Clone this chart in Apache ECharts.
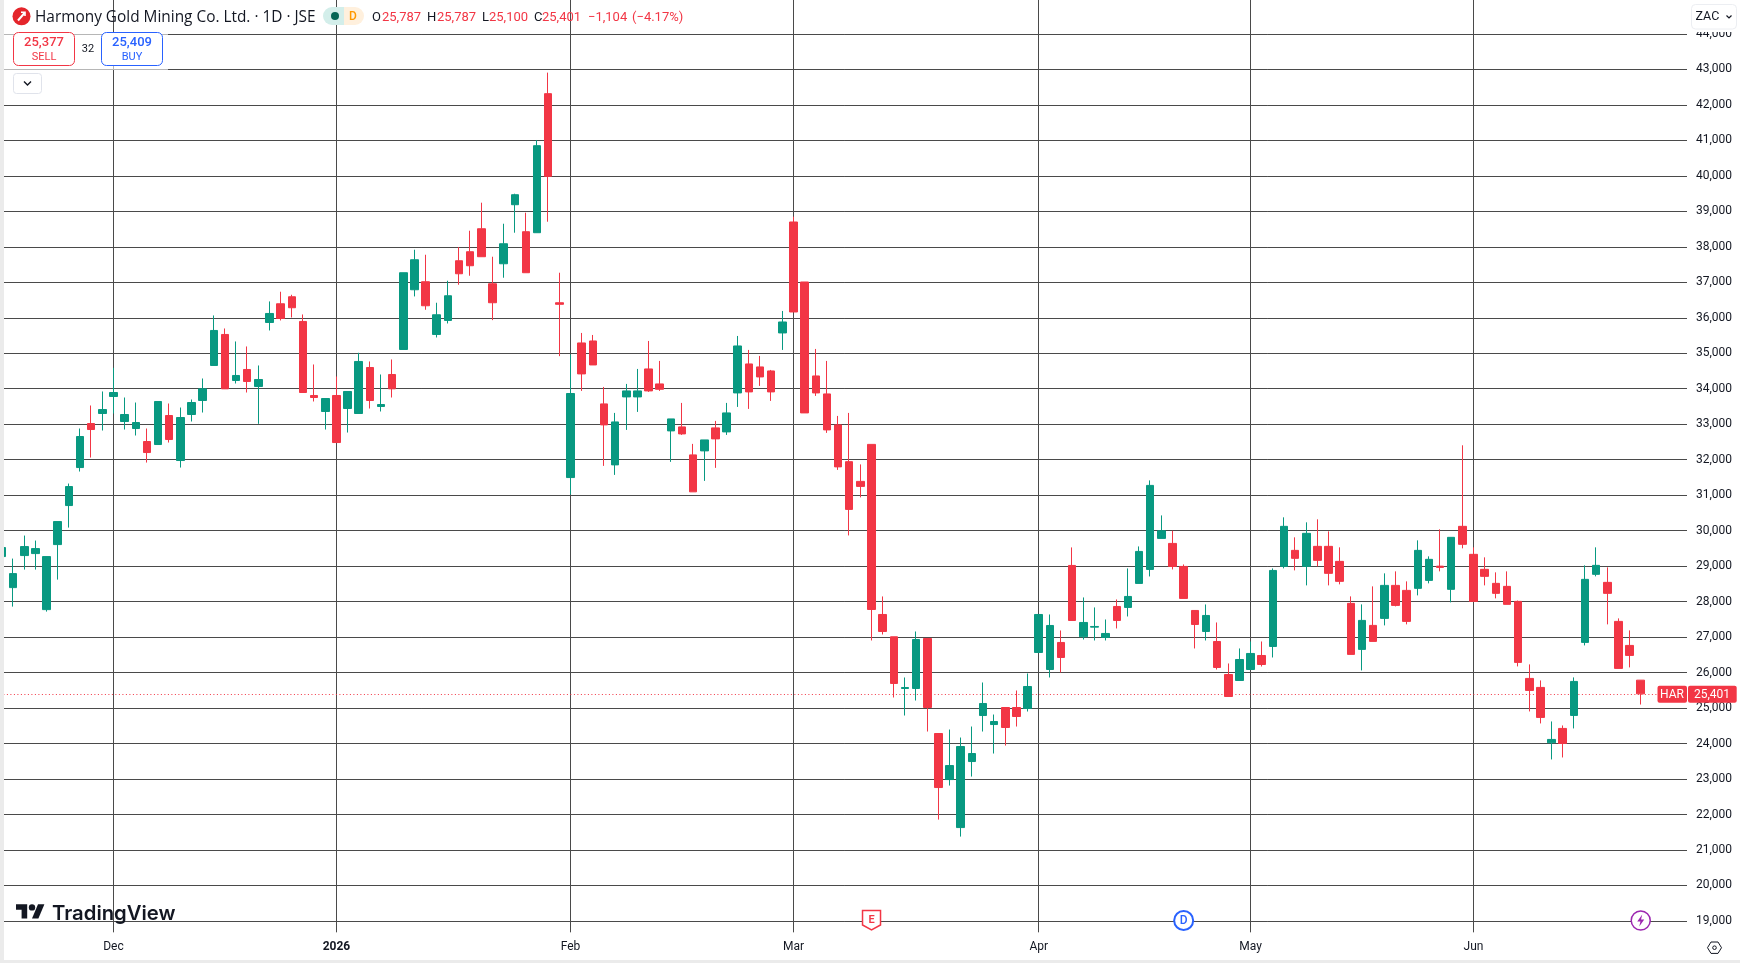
<!DOCTYPE html>
<html><head><meta charset="utf-8">
<style>html,body{margin:0;padding:0;background:#fff}#c{width:1740px;height:963px}</style>
<script src="https://cdn.jsdelivr.net/npm/echarts@6/dist/echarts.min.js"></script>
</head><body><div id="c"></div>
<script>
const opens=[29270,
28395,29298,29354,27775,29608,30708,31779,33020,33302,33782,
33077,32879,32513,32428,33246,31977,33274,33669,34656,35530,
34233,34543,34064,35868,36395,36593,35897,33810,33359,33810,
33443,33302,34599,33500,34402,35107,36790,37016,35530,35925,
37608,37862,38510,36959,37523,39187,38426,38398,42317,36424,
31497,35291,35347,33573,31854,33770,33770,34558,34136,32812,
32925,32136,32249,32897,32784,33882,34699,34615,34502,35573,
38700,37009,34361,33854,32981,31945,31389,32432,27638,27009,
25552,25552,26962,24283,22985,21632,23493,24790,24536,25016,
25016,24988,26567,26087,26849,29020,27009,27281,26990,27864,
27836,28513,28907,29782,29641,28992,27751,27159,26877,25946,
25777,26087,26482,26736,28994,29445,28994,29558,29558,29135,
27951,26654,27330,27528,28458,28317,28374,28599,29000,28346,
30122,29333,28910,28515,28430,28007,25836,25582,24022,24426,
24792,26851,28769,28543,27443,26766,25787];
const closes=[29524,
28790,29552,29495,29270,30257,31244,32654,32851,33415,33894,
33274,33048,32202,33641,32569,33189,33612,33998,35643,33998,
34374,34205,34261,36122,35981,36283,33894,33753,33725,32484,
33923,34769,33669,33556,33998,37270,37636,36339,36085,36621,
37241,37467,37721,36424,38087,39469,37270,40851,39986,36380,
33866,34418,34671,32981,33065,33939,33939,33939,33986,33150,
32727,31094,32558,32587,33319,35206,33911,34333,33911,35882,
36164,33319,33882,32840,31798,30599,31248,27779,27159,25693,
25580,26933,25016,22760,23380,23916,23719,25129,24621,24452,
24762,25608,27638,27328,26426,27469,27413,27300,27103,27469,
28146,29415,31276,29998,28992,28090,27356,27610,26144,25326,
26369,26539,26228,28879,30122,29220,29925,29163,28797,28571,
26513,27471,26879,28458,27894,27443,29445,29192,28965,29812,
29615,28007,28712,28233,27923,26287,25497,24736,24116,24003,
25751,28628,29022,28233,26118,26484,25401];
const lows=[29100,
27860,28903,28903,27719,28621,30087,31667,32061,32823,33302,
32851,32682,31920,32428,32484,31779,33077,33330,34656,33998,
34148,33894,33011,35643,35925,36009,33894,33641,32851,32484,
32766,33302,33443,33359,33753,35107,36602,36226,35445,35840,
36931,37185,37721,35934,37129,38398,37270,38398,38708,34919,
31018,33939,34671,31826,31572,32840,33347,33911,33939,31939,
32699,31094,31403,31770,32699,33488,33432,34080,33657,35094,
36164,33319,33798,32756,31713,29866,30938,26905,27074,25298,
24790,25213,24339,21857,22816,21378,23070,24339,23719,23944,
24480,24903,26567,25862,26003,27469,26933,26905,26905,27244,
27582,28513,28710,29782,28907,28090,26680,26905,26087,25326,
25777,26087,26172,26426,28938,28881,28458,28994,28458,28487,
26513,26061,26879,27330,27866,27359,28176,28515,28853,27979,
29502,28007,28458,28092,27923,26174,24905,24567,23552,23608,
24426,26766,28712,27359,26118,26146,25100];
const highs=[29600,
29213,29862,29721,29270,30257,31328,32879,33528,33923,34590,
33753,33612,32879,33641,33584,33471,33697,34289,36066,35699,
35333,35192,34656,36461,36734,36649,36094,34684,33725,34346,
33923,35013,34769,34402,34825,37270,37918,37777,36424,37044,
37993,38454,39244,37721,38651,39497,38962,41011,42910,37270,
34966,35573,35516,34051,33319,34136,34558,35347,34784,33150,
33601,32446,32558,33094,33601,35488,35094,34925,34530,36192,
38850,37009,35122,34784,33234,33319,31868,32432,28146,27009,
25862,27159,26962,24283,24395,24170,24480,25721,24818,25016,
25495,25975,27638,27638,27187,29528,28118,27836,27497,28061,
28936,29556,31417,30430,29998,29048,27751,27920,27413,26257,
26680,26877,26877,28936,30376,29812,30235,30320,29981,29530,
28148,27923,28430,28797,28853,28571,29727,29276,30038,29812,
32406,29530,29248,28825,28853,28030,26231,25779,24623,24510,
25864,29022,29530,28966,27528,27189,25787];
const monthIndex=[10,30,51,71,93,112,132];
const monthLabels=['Dec','2026','Feb','Mar','Apr','May','Jun'];
const priceTicks=[19000,20000,21000,22000,23000,24000,25000,26000,27000,28000,29000,30000,31000,32000,33000,34000,35000,36000,37000,38000,39000,40000,41000,42000,43000,44000];
const lastClose=25401;
const emptyBars=4;
const earningsIndex=78, dividendIndex=106, flashIndex=147;

const UP='#089981',DOWN='#F23645',INK='#131722',GRID='#4a4a4a',FONT='Roboto, "Noto Sans", sans-serif';
const cats=[];
for(let i=0;i<opens.length+emptyBars;i++)cats.push(String(i));
const ohlc=opens.map((o,i)=>[o,closes[i],lows[i],highs[i]]);
const isMonth=(i)=>monthIndex.indexOf(i)>=0;
const fmt=v=>String(v).replace(/\B(?=(\d{3})+$)/g,',');

const chart=echarts.init(document.getElementById('c'),null,{renderer:'canvas',width:1740,height:963});
chart.setOption({
 animation:false,backgroundColor:'#fff',
 grid:{left:-3.6,width:1694.5,top:-0.36,height:932.7,containLabel:false,outerBoundsMode:'none'},
 xAxis:{type:'category',data:cats,boundaryGap:true,
  axisLine:{show:false},axisTick:{show:false,alignWithLabel:true},
  splitLine:{show:true,alignWithLabel:true,interval:(i)=>isMonth(i),lineStyle:{color:GRID,width:1}},
  axisLabel:{interval:(i)=>isMonth(i),margin:9,fontSize:12,fontFamily:FONT,color:INK,
   formatter:(v)=>{const l=monthLabels[monthIndex.indexOf(+v)];return l==='2026'?'{b|2026}':l;},
   rich:{b:{fontWeight:'bold',fontSize:12,fontFamily:FONT,color:INK}}}},
 yAxis:{type:'value',position:'right',min:18679,max:44967,scale:true,
  axisLine:{show:false},axisTick:{show:false,customValues:priceTicks},
  splitLine:{show:true,lineStyle:{color:GRID,width:1}},
  axisLabel:{customValues:priceTicks,margin:5,fontSize:12,fontFamily:FONT,color:INK,align:'left',formatter:(v)=>fmt(v),hideOverlap:false}},
 series:[{type:'candlestick',data:ohlc,barWidth:8,
  itemStyle:{color:UP,color0:DOWN,borderColor:UP,borderColor0:DOWN,borderWidth:1},
  markLine:{silent:true,symbol:'none',z:1,label:{show:false},lineStyle:{color:DOWN,type:[1,2.5],width:1},data:[{yAxis:lastClose}]}}]
});

const xPx=i=>chart.convertToPixel({xAxisIndex:0},String(i));
const yPx=v=>chart.convertToPixel({yAxisIndex:0},v);
const yLast=yPx(lastClose)+0.5;
const MK=920.5;
function txt(x,y,t,o){o=o||{};return {type:'text',z:100,x:x,y:y,silent:true,style:{text:t,fill:o.c||INK,fontSize:o.s||13,fontFamily:o.f||FONT,fontWeight:o.w||'normal',textAlign:o.a||'left',textVerticalAlign:'middle'}};}
function rect(x,y,w,h,fill,o){o=o||{};return {type:'rect',z:o.z||100,silent:true,shape:{x:x,y:y,width:w,height:h,r:o.r||0},style:{fill:fill,stroke:o.s||null,lineWidth:o.lw||1}};}
const xE=xPx(earningsIndex),xD=xPx(dividendIndex),xF=xPx(flashIndex);
const tvX=p=>[16+p[0]*0.8,901+p[1]*0.8];
const g=[
 rect(0,0,4,963,'#ebebeb'),rect(0,960,1740,3,'#ebebeb'),
 rect(1687,0,4,933,'#ffffff',{z:50}),
 rect(1690,0,48,32,'#ffffff',{z:90}),
 rect(4,32,164,38,'rgba(255,255,255,0.6)',{z:60}),
 // header
 {type:'circle',z:100,silent:true,shape:{cx:21.5,cy:16.3,r:9},style:{fill:'#E4252B'}},
 {type:'polyline',z:101,silent:true,shape:{points:[[18,20.5],[24.5,13]]},style:{stroke:'#fff',lineWidth:2,fill:null}},
 {type:'polyline',z:101,silent:true,shape:{points:[[21,12.2],[25,12.2],[25,16]]},style:{stroke:'#fff',lineWidth:1.6,fill:null}},
 txt(35,17.5,'Harmony Gold Mining Co. Ltd. · 1D · JSE',{s:15.4,f:'"Open Sans", sans-serif'}),
 rect(323,7,21,18,'#d3eeea',{r:[9,0,0,9]}),rect(344,7,20,18,'#fff0dd',{r:[0,9,9,0]}),
 {type:'circle',z:101,silent:true,shape:{cx:335,cy:16,r:4},style:{fill:'#056656'}},
 txt(353,16.5,'D',{c:'#FF9800',s:12,a:'center',w:500}),
 txt(372,17.5,'O'),txt(382,17.5,'25,787',{c:DOWN}),
 txt(427,17.5,'H'),txt(437,17.5,'25,787',{c:DOWN}),
 txt(482,17.5,'L'),txt(489,17.5,'25,100',{c:DOWN}),
 txt(534,17.5,'C'),txt(542,17.5,'25,401',{c:DOWN}),
 txt(588,17.5,'−1,104',{c:DOWN}),txt(632,17.5,'(−4.17%)',{c:DOWN}),
 // buy / sell
 rect(13.5,32.5,61,33,'#fff',{s:DOWN,r:5}),
 txt(44,42.5,'25,377',{c:DOWN,a:'center',s:13,w:500}),txt(44,57,'SELL',{c:DOWN,a:'center',s:11}),
 txt(88,49,'32',{a:'center',s:11}),
 rect(101.5,32.5,61,33,'#fff',{s:'#2962FF',r:5}),
 txt(132,42.5,'25,409',{c:'#2962FF',a:'center',s:13,w:500}),txt(132,57,'BUY',{c:'#2962FF',a:'center',s:11}),
 rect(13.5,73.5,28,20,'#fff',{s:'#e0e3eb',r:3}),
 {type:'polyline',z:101,silent:true,shape:{points:[[24,81.5],[27.5,85],[31,81.5]]},style:{stroke:INK,lineWidth:1.4,fill:null}},
 // currency button
 rect(1691.5,4.5,45,24.5,'#fff',{s:'#eceef2',r:4}),
 txt(1695.5,17,'ZAC',{s:12.5}),
 {type:'polyline',z:101,silent:true,shape:{points:[[1726.5,15.5],[1729,18],[1731.5,15.5]]},style:{stroke:INK,lineWidth:1.2,fill:null}},
 // watermark
 {type:'polygon',z:100,silent:true,shape:{points:[[0,4],[14,4],[14,22],[7,22],[7,11],[0,11]].map(tvX)},style:{fill:INK}},
 {type:'polygon',z:100,silent:true,shape:{points:[[28,22],[20,22],[27.5,4],[35.5,4]].map(tvX)},style:{fill:INK}},
 {type:'circle',z:100,silent:true,shape:{cx:32,cy:907.4,r:3.2},style:{fill:INK}},
 txt(52,913.5,'TradingView',{s:20.3,w:600,f:'Inter, Roboto, sans-serif',c:'#131722'}),
 // price tag
 rect(1657.5,yLast-8.5,29.5,17,DOWN,{r:2}),txt(1672,yLast+0.5,'HAR',{c:'#fff',a:'center',s:12}),
 rect(1688,yLast-8.5,48.7,17,DOWN,{r:2}),txt(1712,yLast+0.5,'25,401',{c:'#fff',a:'center',s:12}),
 // event markers
 {type:'polygon',z:100,silent:true,shape:{points:[[xE-9,910.5],[xE+9,910.5],[xE+9,925],[xE,930],[xE-9,925]]},style:{fill:'#fff',stroke:DOWN,lineWidth:1.5}},
 txt(xE,920,'E',{c:DOWN,a:'center',s:11,w:600}),
 {type:'circle',z:100,silent:true,shape:{cx:xD,cy:MK,r:9.5},style:{fill:'#fff',stroke:'#2962FF',lineWidth:2}},
 txt(xD,MK,'D',{c:'#2962FF',a:'center',s:12,w:500}),
 {type:'circle',z:100,silent:true,shape:{cx:xF,cy:MK,r:9.5},style:{fill:'#fff',stroke:'#9C27B0',lineWidth:1.5}},
 {type:'polygon',z:101,silent:true,shape:{points:[[xF+1.5,914.5],[xF-3.5,921.5],[xF-0.3,921.5],[xF-1.5,926.5],[xF+3.5,919.5],[xF+0.3,919.5]]},style:{fill:'#9C27B0'}},
 // settings
 {type:'polygon',z:100,silent:true,shape:{points:[[1707.5,947.7],[1711,942],[1718,942],[1721.5,947.7],[1718,953.4],[1711,953.4]]},style:{fill:'#fff',stroke:INK,lineWidth:1}},
 {type:'circle',z:101,silent:true,shape:{cx:1714.5,cy:947.7,r:1.8},style:{fill:'#fff',stroke:INK,lineWidth:1}}
];
chart.setOption({graphic:g});
</script></body></html>
